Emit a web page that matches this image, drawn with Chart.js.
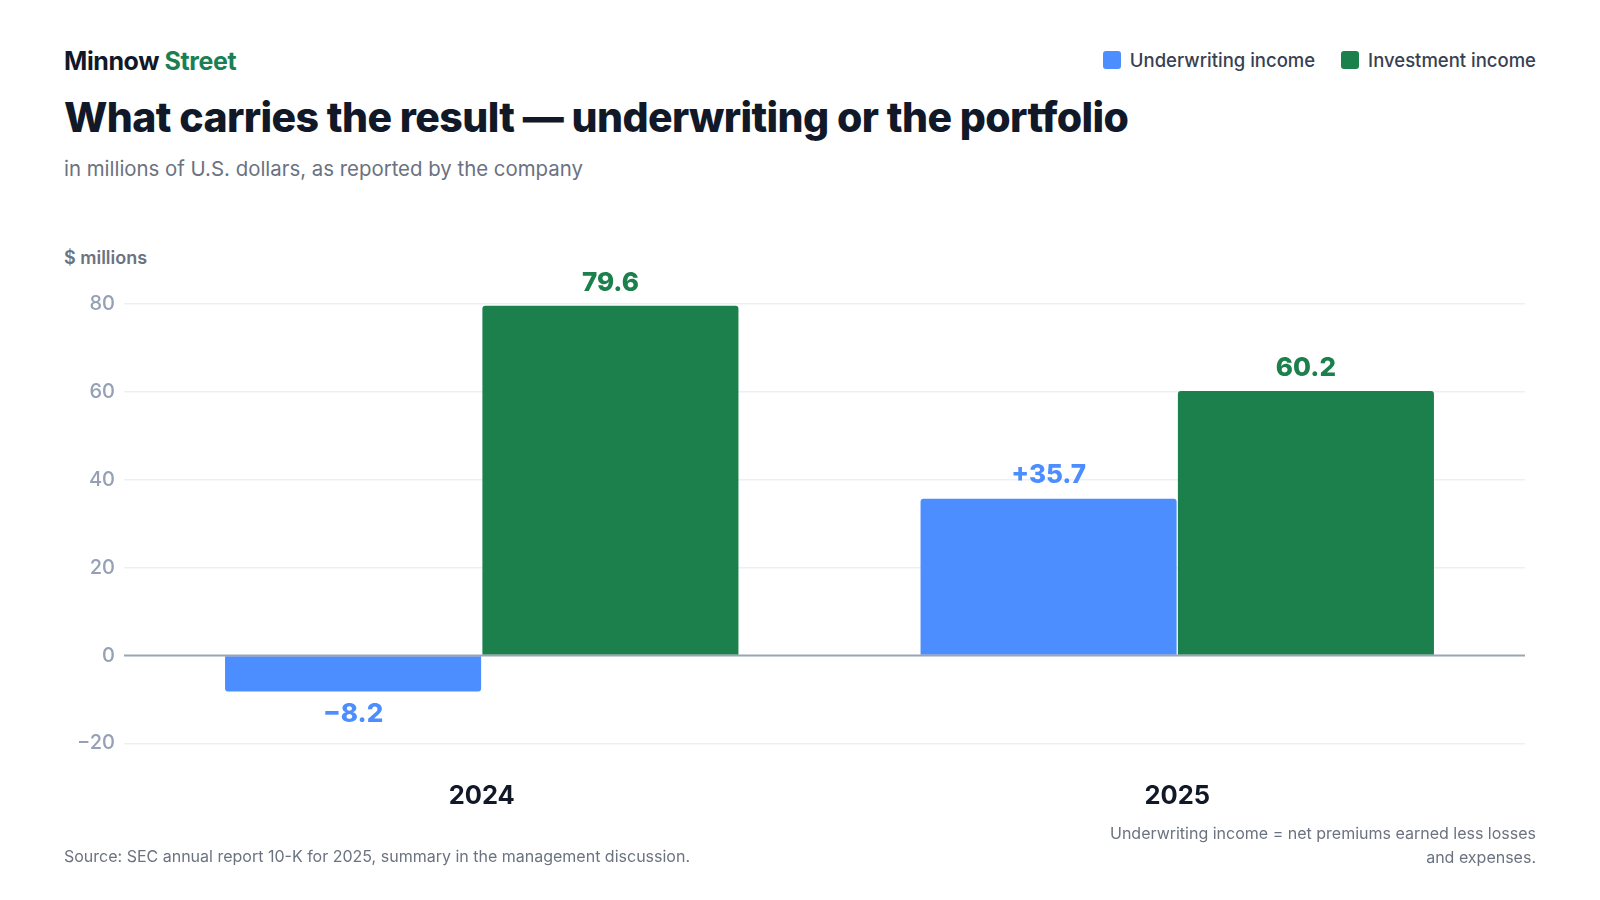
<!DOCTYPE html>
<html>
<head>
<meta charset="utf-8">
<script src="https://cdn.jsdelivr.net/npm/chart.js@4/dist/chart.umd.min.js"></script>
<style>
  html, body { margin: 0; padding: 0; background: #fff; }
  body { width: 1600px; height: 900px; position: relative; overflow: hidden; font-family: Inter, "Noto Sans", sans-serif; }
  .brand { position: absolute; left: 64px; top: 46px; font-size: 25px; font-weight: 700; color: #111827; letter-spacing: -0.4px; }
  .brand span { color: #1a7f54; }
  .title { position: absolute; left: 64px; top: 92px; font-size: 41px; font-weight: 800; color: #111827; letter-spacing: -0.6px; white-space: nowrap; }
  .subtitle { position: absolute; left: 64px; top: 156px; font-size: 20.4px; color: #6b7280; white-space: nowrap; }
  .legend { position: absolute; right: 64px; top: 49px; display: flex; gap: 26px; font-size: 18.5px; color: #374151; font-weight: 500; }
  .legend div { display: flex; align-items: center; }
  .legend i { display: inline-block; width: 18px; height: 18px; border-radius: 3px; margin-right: 9px; }
  .unit { position: absolute; left: 64px; top: 247px; font-size: 18px; font-weight: 600; color: #6b7280; }
  .source { position: absolute; left: 64px; top: 846px; font-size: 16px; color: #6b7280; }
  .note { position: absolute; right: 64px; top: 821px; font-size: 16px; color: #6b7280; text-align: right; line-height: 24px; }
  #wrap { position: absolute; left: 64px; top: 270px; width: 1472px; height: 582px; }
</style>
</head>
<body>
<div class="brand">Minnow <span>Street</span></div>
<div class="legend" id="legend"></div>
<div class="title">What carries the result — underwriting or the portfolio</div>
<div class="subtitle">in millions of U.S. dollars, as reported by the company</div>
<div class="unit">$ millions</div>
<div id="wrap"><canvas id="chart"></canvas></div>
<div class="source">Source: SEC annual report 10-K for 2025, summary in the management discussion.</div>
<div class="note">Underwriting income = net premiums earned less losses<br>and expenses.</div>

<script>
const years = ['2024', '2025'];
const underwriting = [-8.2, 35.7];
const investment = [79.6, 60.2];
const seriesNames = ['Underwriting income', 'Investment income'];
const seriesColors = ['#4c8dff', '#1c804c'];
const yTicks = [-20, 0, 20, 40, 60, 80];

function fmtNum(v) {
    return v < 0 ? '\u2212' + Math.abs(v) : String(v);
}

// legend in the header
let legendHtml = '';
for (let i = 0; i < seriesNames.length; i++) {
    legendHtml += '<div><i style="background:' + seriesColors[i] + '"></i>' + seriesNames[i] + '</div>';
}
document.getElementById('legend').innerHTML = legendHtml;

const TICK_LEN = 10;

const valueLabels = {
    id: 'valueLabels',
    afterDatasetsDraw(chart) {
        const ctx = chart.ctx;
        // zero line over the bars
        const yScale = chart.scales.y;
        const y0 = yScale.getPixelForValue(0);
        ctx.save();
        ctx.strokeStyle = '#9aa6b6';
        ctx.lineWidth = 2;
        ctx.beginPath();
        ctx.moveTo(chart.chartArea.left - TICK_LEN, y0);
        ctx.lineTo(chart.chartArea.right, y0);
        ctx.stroke();

        ctx.font = '800 26px Inter';
        ctx.textAlign = 'center';
        ctx.textBaseline = 'middle';
        chart.data.datasets.forEach((ds, di) => {
            const meta = chart.getDatasetMeta(di);
            meta.data.forEach((bar, i) => {
                const v = ds.data[i];
                let txt = v < 0 ? fmtNum(v) : (di === 0 ? '+' + v : String(v));
                let y = v < 0 ? bar.y + 23 : bar.y - 23;
                ctx.fillStyle = seriesColors[di];
                ctx.fillText(txt, bar.x, y);
            });
        });
        ctx.restore();
    }
};

new Chart(document.getElementById('chart'), {
    type: 'bar',
    data: {
        labels: years,
        datasets: [
            { label: seriesNames[0], data: underwriting, backgroundColor: seriesColors[0] },
            { label: seriesNames[1], data: investment, backgroundColor: seriesColors[1] }
        ]
    },
    options: {
        responsive: true,
        maintainAspectRatio: false,
        animation: false,
        layout: { padding: { top: 34, right: 11, bottom: 10, left: 0 } },
        datasets: {
            bar: { categoryPercentage: 0.74, barPercentage: 0.995, borderRadius: 3, borderSkipped: 'start' }
        },
        plugins: {
            legend: { display: false },
            tooltip: { enabled: false }
        },
        scales: {
            x: {
                grid: { display: false },
                border: { display: false },
                ticks: { color: '#111827', font: { family: 'Inter', size: 25.5, weight: '700' }, padding: 30 }
            },
            y: {
                min: -20,
                max: 80,
                afterBuildTicks(axis) { axis.ticks = yTicks.map(v => ({ value: v })); },
                afterFit(axis) { axis.width = 70; },
                grid: {
                    color: ctx => ctx.tick && ctx.tick.value === 0 ? 'rgba(0,0,0,0)' : '#eceff3',
                    lineWidth: 1.5,
                    drawTicks: true,
                    tickLength: TICK_LEN
                },
                border: { display: false },
                ticks: {
                    color: '#94a0b3',
                    font: { family: 'Inter', size: 20, weight: '500' },
                    padding: 9,
                    callback: v => fmtNum(v)
                }
            }
        }
    },
    plugins: [valueLabels]
});
</script>
</body>
</html>
